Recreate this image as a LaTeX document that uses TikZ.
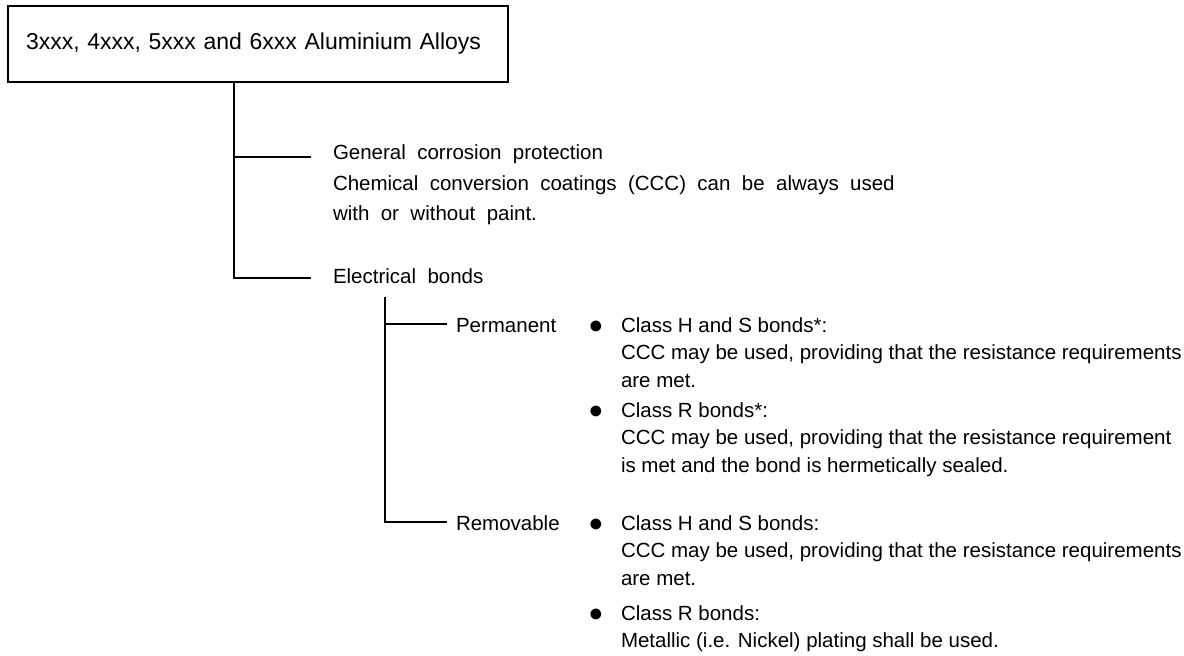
\documentclass[tikz,border=0pt]{standalone}
\usepackage{fontspec}
\setmainfont{Liberation Sans}
\newfontfamily\widefont[WordSpace=2.6]{Liberation Sans}
\newfontfamily\titlefont[WordSpace=2]{Liberation Sans}
\usetikzlibrary{positioning}

\begin{document}
\begin{tikzpicture}[
    x=0.5pt, y=-0.5pt,
    line width=1pt,
    every node/.style={inner sep=0pt, font=\fontsize{10.25}{14}\selectfont},
    alloybox/.style={
      draw, line width=1pt, anchor=north west,
      minimum width=250pt, minimum height=38pt,
      inner xsep=9pt, text width=232pt, align=left,
      font=\titlefont\fontsize{11.5}{14}\selectfont
    },
    branch/.style={anchor=base west, align=left,
      font=\widefont\fontsize{10.25}{15.25}\selectfont},
    leaf/.style={anchor=base west},
    item/.style={anchor=base west, align=left,
      font=\fontsize{10.25}{13.75}\selectfont},
    dot/.style={anchor=base, font=\fontsize{12.5}{14}\selectfont}
  ]
    \useasboundingbox (0,0) rectangle (1184,655);

    % Top box
    \node[alloybox] (alloys) at (7,5) {3xxx, 4xxx, 5xxx and 6xxx Aluminium Alloys};

    % First level (multi-line nodes sit on the base of their last line)
    \node[branch] (general) at (332,159) {General corrosion protection};
    \node[branch] (ccc) at (332,220.5)
      {Chemical conversion coatings (CCC) can be always used\\with or without paint.};
    \node[branch] (elec) at (332,283) {Electrical bonds};

    \coordinate (trunk) at (234,81);
    \coordinate (gen-tip) at (311,157);
    \coordinate (elec-tip) at (311,278);
    \draw (trunk) |- (elec-tip);
    \draw (trunk |- gen-tip) -- (gen-tip);

    % Second level
    \node[leaf] (perm) at (455,332) {Permanent};
    \node[leaf] (rem) at (455,530) {Removable};

    \coordinate (sub) at (385,297);
    \coordinate (perm-tip) at (447,324);
    \coordinate (rem-tip) at (447,522);
    \draw (sub) |- (rem-tip);
    \draw (sub |- perm-tip) -- (perm-tip);

    % Bullets
    \foreach \y [count=\i] in {333,418,531,621}
      \node[dot] (dot\i) at (596,\y) {●};

    \node[item] (hs-perm) at (620,387) {Class H and S bonds*:\\
      CCC may be used, providing that the resistance requirements\\are met.};
    \node[item] (r-perm) at (620,472) {Class R bonds*:\\
      CCC may be used, providing that the resistance requirement\\
      is met and the bond is hermetically sealed.};
    \node[item] (hs-rem) at (620,585) {Class H and S bonds:\\
      CCC may be used, providing that the resistance requirements\\are met.};
    \node[item] (r-rem) at (620,647.5) {Class R bonds:\\
      Metallic (i.e. Nickel) plating shall be used.};
  \end{tikzpicture}
\end{document}
